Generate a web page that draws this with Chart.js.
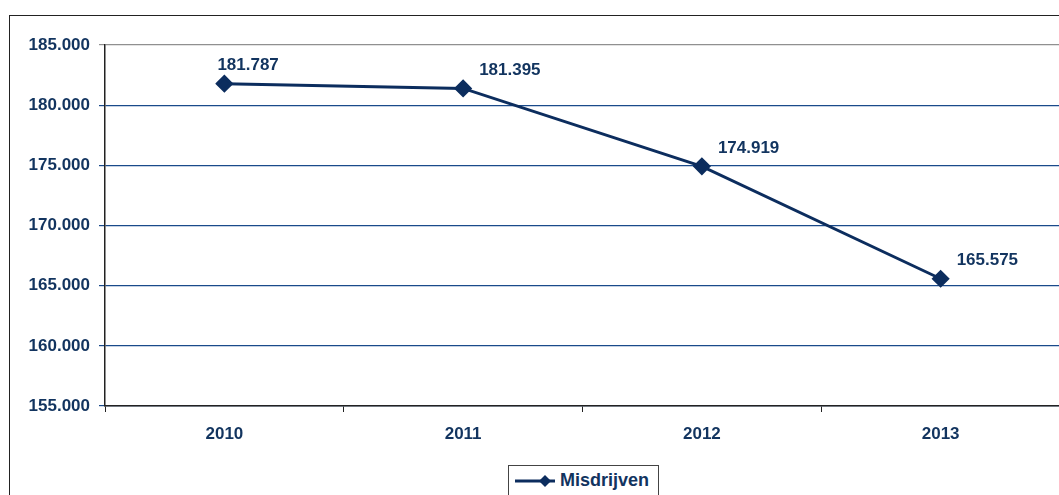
<!DOCTYPE html>
<html>
<head>
<meta charset="utf-8">
<script src="https://cdn.jsdelivr.net/npm/chart.js@4.4.1/dist/chart.umd.min.js"></script>
<style>
  html, body { margin: 0; padding: 0; background: #fff; overflow: hidden; width: 1059px; height: 495px; }
  #frame { position: absolute; left: 9px; top: 15px; width: 1100px; height: 520px; border: 1.5px solid #222; }
  #wrap { position: absolute; left: 0; top: 0; width: 1070px; height: 495px; }
  #legend { position: absolute; left: 508px; top: 465px; width: 149px; height: 40px; border: 1px solid #444; background: #fff;
    font: bold 18px "Liberation Sans", Arial, sans-serif; color: #12345F; }
  #legend svg { position: absolute; left: 6px; top: 7px; }
  #legend span { position: absolute; left: 51px; top: 4px; }
</style>
</head>
<body>
<div id="frame"></div>
<div id="wrap"><canvas id="chart" width="1070" height="495"></canvas></div>
<div id="legend">
  <svg width="40" height="16"><line x1="0" y1="8" x2="40" y2="8" stroke="#0C2D5E" stroke-width="3"/><polygon points="30,2 36,8 30,14 24,8" fill="#0C2D5E"/></svg>
  <span>Misdrijven</span>
</div>
<script>
const years = ['2010', '2011', '2012', '2013'];
const misdrijven = [181787, 181395, 174919, 165575];
const yTicks = [155000, 160000, 165000, 170000, 175000, 180000, 185000];

const navy = '#0C2D5E';
const textNavy = '#12345F';
const gridBlue = '#1A4A8A';
const font = { family: '"Liberation Sans", Arial, sans-serif', size: 17, weight: 'bold' };

function fmt(v) {
  return v.toString().replace(/\B(?=(\d{3})+(?!\d))/g, '.');
}

const valueLabels = {
  id: 'valueLabels',
  afterDatasetsDraw(chart) {
    const ctx = chart.ctx;
    const meta = chart.getDatasetMeta(0);
    ctx.save();
    ctx.font = 'bold 17px "Liberation Sans", Arial, sans-serif';
    ctx.fillStyle = textNavy;
    ctx.textAlign = 'left';
    ctx.textBaseline = 'middle';
    meta.data.forEach((pt, i) => {
      const dx = i === 0 ? -7 : 16;
      ctx.fillText(fmt(misdrijven[i]), pt.x + dx, pt.y - 18);
    });
    ctx.restore();
  }
};

const ctx = document.getElementById('chart').getContext('2d');
new Chart(ctx, {
  type: 'line',
  data: {
    labels: years,
    datasets: [{
      label: 'Misdrijven',
      data: misdrijven,
      borderColor: navy,
      backgroundColor: navy,
      borderWidth: 3,
      pointStyle: 'rectRot',
      pointRadius: 7,
      pointBackgroundColor: navy,
      pointBorderColor: navy,
      tension: 0
    }]
  },
  options: {
    responsive: false,
    animation: false,
    layout: { padding: { top: 45, right: 7, bottom: 39, left: 0 } },
    plugins: { legend: { display: false }, tooltip: { enabled: false } },
    scales: {
      x: {
        offset: true,
        grid: { offset: true, drawOnChartArea: false, tickLength: 6, color: '#222' },
        border: { color: '#222', width: 1.5 },
        ticks: { color: textNavy, font: font, padding: 12, maxRotation: 0 },
        afterFit(scale) { scale.height = 50; }
      },
      y: {
        min: 155000,
        max: 185000,
        afterBuildTicks(scale) { scale.ticks = yTicks.map(v => ({ value: v })); },
        grid: {
          tickLength: 6,
          lineWidth: 1.2,
          color: [gridBlue, gridBlue, gridBlue, gridBlue, gridBlue, gridBlue, '#909090']
        },
        border: { color: '#222', width: 1.5 },
        ticks: { color: textNavy, font: font, padding: 9, callback: v => fmt(v) },
        afterFit(scale) { scale.width = 105; }
      }
    }
  },
  plugins: [valueLabels]
});
</script>
</body>
</html>
